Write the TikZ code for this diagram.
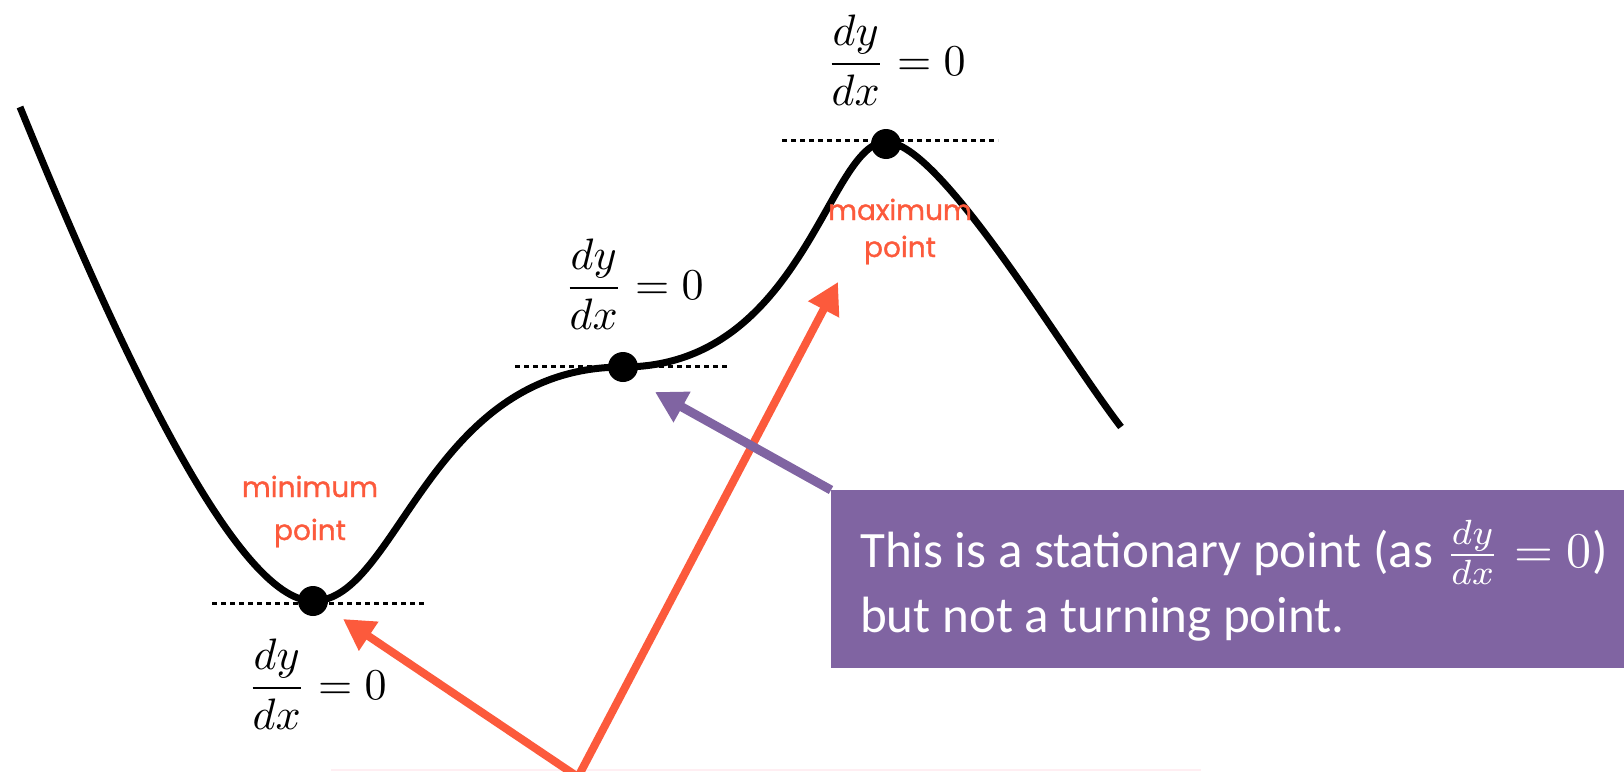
\documentclass[tikz,border=0pt]{standalone}
\usepackage{graphicx}
\usepackage{fontspec}
\usetikzlibrary{arrows.meta}
\newfontfamily\boxfont{Carlito}
\newfontfamily\labelfont{Poppins}[FakeBold=1.2]
\definecolor{curvered}{RGB}{252,90,60}
\definecolor{boxpurple}{RGB}{128,100,162}
\definecolor{faintpink}{RGB}{255,238,242}
\newcommand{\bigderiv}{\scalebox{4.4}{\normalsize$\displaystyle\frac{dy}{dx}=0$}}
\newcommand{\boxderiv}{\scalebox{5.0}{\normalsize$\frac{dy}{dx}=0$}}
\begin{document}
\begin{tikzpicture}[x=1pt,y=-1pt,
  curveline/.style={line width=7pt, line join=round},
  dot/.style={circle, fill=black, inner sep=0pt, minimum size=30pt},
  tangent/.style={line width=3pt, dash pattern=on 5pt off 4pt},
  deriv/.style={inner sep=0pt},
  hand/.style={font=\labelfont\fontsize{28}{34}\selectfont, text=curvered, inner sep=0pt, anchor=base},
  redarrow/.style={draw=curvered, line width=8pt, -{Triangle[length=31pt,width=33pt]}},
  purplearrow/.style={draw=boxpurple, line width=9pt, -{Triangle[length=31pt,width=33pt]}},
  infobox/.style={fill=boxpurple, inner sep=0pt, minimum width=793pt, minimum height=178pt, anchor=north west},
  boxtext/.style={font=\boxfont\fontsize{51}{62}\selectfont, text=white, inner sep=0pt, anchor=base west}
]
\useasboundingbox (0,0) rectangle (1624,771);
\clip (0,0) rectangle (1624,771);

% faint line at the bottom
\draw[faintpink, line width=1.5pt] (331,770) -- (1201,770);

% tangent lines
\coordinate (tminL) at (212,603); \coordinate (tminR) at (427,603);
\coordinate (tmidL) at (515,366); \coordinate (tmidR) at (730,366);
\coordinate (tmaxL) at (782,140); \coordinate (tmaxR) at (998,140);
\draw[tangent] (tminL) -- (tminR);
\draw[tangent] (tmidL) -- (tmidR);
\draw[tangent] (tmaxL) -- (tmaxR);

% curve
\coordinate (cS) at (20,107);
\coordinate (cM) at (313,601);
\coordinate (cI) at (623,367);
\coordinate (cX) at (886,142);
\coordinate (cE) at (1121,427);
\draw[curveline] (cS) .. controls (115,340) and (235,601) .. (cM)
  .. controls (398,601) and (428,367) .. (cI)
  .. controls (803,367) and (828,142) .. (cX)
  .. controls (940,142) and (1061,349) .. (cE);

% stationary points
\node[dot] (pmin) at (313,601) {};
\node[dot] (pmid) at (623,367) {};
\node[dot] (pmax) at (886,144) {};

% derivative labels
\node[deriv] (dmin) at (317,684) {\bigderiv};
\node[deriv] (dmid) at (634,284) {\bigderiv};
\node[deriv] (dmax) at (896,60) {\bigderiv};

% handwritten labels
\node[hand] (minA) at (310,497) {minimum};
\node[hand] (minB) at (310,540) {point};
\node[hand] (maxA) at (900,220) {maximum};
\node[hand] (maxB) at (900,257) {point};

% red arrows
\coordinate (apex) at (578,777);
\coordinate (minTip) at (343,619);
\coordinate (maxTip) at (838,282);
\draw[redarrow] (apex) -- (minTip);
\draw[redarrow] (apex) -- (maxTip);

% info box and purple arrow
\node[infobox] (box) at (831,490) {};
\coordinate (midTip) at (655,392);
\draw[purplearrow] (box.north west) -- (midTip);
\node[boxtext] (line1) at (860,567) {This is a stationary point (as \boxderiv)};
\node[boxtext] (line2) at (860,632) {but not a turning point.};
\end{tikzpicture}
\end{document}
